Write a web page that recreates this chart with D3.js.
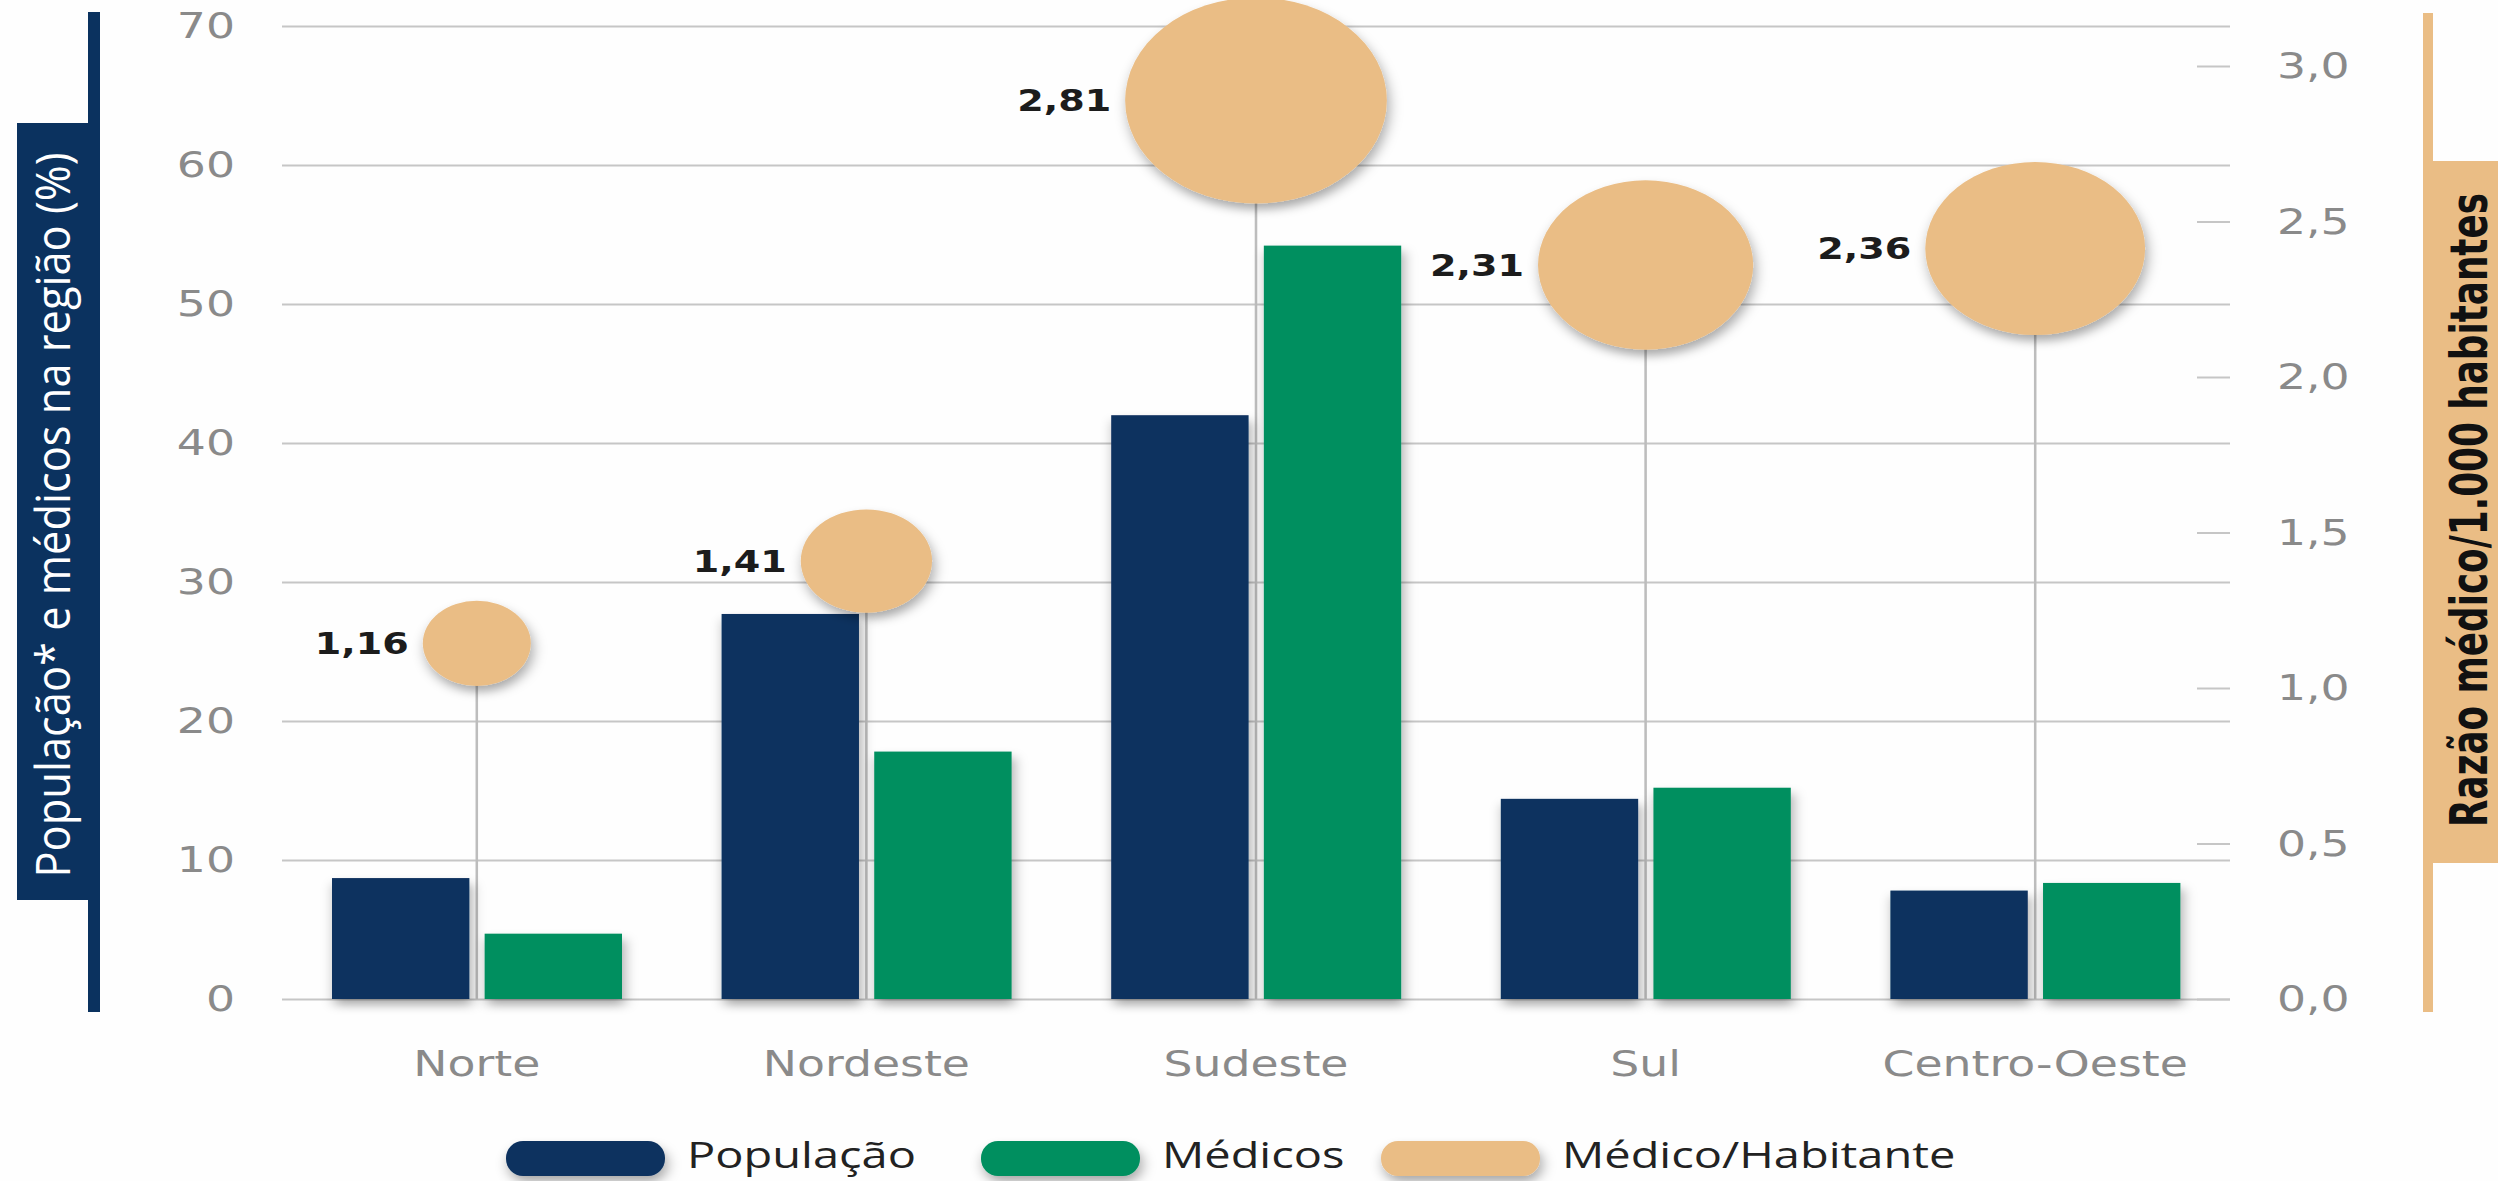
<!DOCTYPE html>
<html>
<head>
<meta charset="utf-8">
<script src="https://cdn.jsdelivr.net/npm/d3@7"></script>
<style>
  html, body { margin: 0; padding: 0; background: #fefefe; overflow: hidden; }
  .tick text { fill: #8a8a8a; font-family: "DejaVu Sans", sans-serif; font-size: 36px; }
</style>
</head>
<body>
<div class="chart"></div>
<script>
// data
const regions = ['Norte', 'Nordeste', 'Sudeste', 'Sul', 'Centro-Oeste'];
const populacao = [8.7, 27.7, 42.0, 14.4, 7.8];
const medicos = [4.7, 17.8, 54.2, 15.2, 8.35];
const razao = [1.16, 1.41, 2.81, 2.31, 2.36];
const leftTicks = [0, 10, 20, 30, 40, 50, 60, 70];
const rightTicks = [0, 0.5, 1.0, 1.5, 2.0, 2.5, 3.0];
const seriesNames = ['População', 'Médicos', 'Médico/Habitante'];
const seriesColors = ['#0b325f', '#008f5f', '#eabd85'];

// set up svg
const SVGWIDTH = 2498;
const SVGHEIGHT = 1181;
// the original artwork is stretched horizontally
const SX = 1.27;
const fx = v => v / SX;

const PLOT = { left: 282, right: 2230, top: 26, bottom: 999 };
// legend swatch left edges (final pixels)
const LEGEND_X = [506, 981, 1381];

let svg = d3.select('.chart')
  .append('svg')
  .attr('width', SVGWIDTH)
  .attr('height', SVGHEIGHT);

const defs = svg.append('defs');
const shadow = defs.append('filter')
  .attr('id', 'shadow')
  .attr('x', '-20%').attr('y', '-20%')
  .attr('width', '150%').attr('height', '150%');
shadow.append('feDropShadow')
  .attr('dx', 2).attr('dy', 6)
  .attr('stdDeviation', 5)
  .attr('flood-color', '#000')
  .attr('flood-opacity', 0.33);

const G = svg.append('g').attr('transform', `scale(${SX},1)`);

// scales
const x0 = d3.scaleBand()
  .domain(regions)
  .range([fx(PLOT.left), fx(PLOT.right)])
  .padding(0);

const x1 = d3.scaleBand()
  .domain(['pop', 'med'])
  .range([fx(50), fx(340)])
  .paddingInner(0.1)
  .paddingOuter(0);

const yLeft = d3.scaleLinear().domain([0, 70]).range([PLOT.bottom, PLOT.top]);
const yRight = d3.scaleLinear().domain([0, 3]).range([PLOT.bottom, 66]);
const yBubble = d3.scaleLinear().domain([0, 3]).range([1025, 38]);
const rBubble = d3.scaleLinear().domain([0, 3]).range([0, 110]);

const comma = (f) => d => d3.format(f)(d).replace('.', ',');

// left axis + gridlines
const leftAxis = d3.axisLeft(yLeft)
  .tickValues(leftTicks)
  .tickSize(-(fx(PLOT.right) - fx(PLOT.left)))
  .tickPadding(fx(47));
const gl = G.append('g')
  .attr('transform', `translate(${fx(PLOT.left)},0)`)
  .call(leftAxis);
gl.select('.domain').remove();
gl.selectAll('.tick line').attr('stroke', '#c6c6c6').attr('stroke-width', 2);

// right axis
const rightAxis = d3.axisRight(yRight)
  .tickValues(rightTicks)
  .tickSize(fx(33))
  .tickPadding(fx(47))
  .tickFormat(comma('.1f'));
const gr = G.append('g')
  .attr('transform', `translate(${fx(2197)},0)`)
  .call(rightAxis);
gr.select('.domain').remove();
gr.selectAll('.tick line').attr('stroke', '#c6c6c6').attr('stroke-width', 2);

// x labels
G.selectAll('.xlabel')
  .data(regions)
  .enter()
  .append('text')
  .attr('class', 'xlabel')
  .attr('x', d => x0(d) + x0.bandwidth() / 2)
  .attr('y', 1076)
  .attr('text-anchor', 'middle')
  .attr('fill', '#8a8a8a')
  .style('font-family', '"DejaVu Sans", sans-serif')
  .style('font-size', '36px')
  .text(d => d);

// lollipop stems
G.selectAll('.stem')
  .data(regions)
  .enter()
  .append('line')
  .attr('class', 'stem')
  .attr('x1', d => x0(d) + x0.bandwidth() / 2)
  .attr('x2', d => x0(d) + x0.bandwidth() / 2)
  .attr('y1', (d, i) => yBubble(razao[i]))
  .attr('y2', PLOT.bottom)
  .attr('stroke', '#bdbdbd')
  .attr('stroke-width', 2);

// bars
const groups = G.selectAll('.region')
  .data(regions)
  .enter()
  .append('g')
  .attr('class', 'region')
  .attr('transform', d => `translate(${x0(d)},0)`);

groups.append('rect')
  .attr('x', x1('pop'))
  .attr('width', x1.bandwidth())
  .attr('y', (d, i) => yLeft(populacao[i]))
  .attr('height', (d, i) => PLOT.bottom - yLeft(populacao[i]))
  .attr('fill', seriesColors[0])
  .attr('filter', 'url(#shadow)');

groups.append('rect')
  .attr('x', x1('med'))
  .attr('width', x1.bandwidth())
  .attr('y', (d, i) => yLeft(medicos[i]))
  .attr('height', (d, i) => PLOT.bottom - yLeft(medicos[i]))
  .attr('fill', seriesColors[1])
  .attr('filter', 'url(#shadow)');

// bubbles
groups.append('circle')
  .attr('cx', x0.bandwidth() / 2)
  .attr('cy', (d, i) => yBubble(razao[i]))
  .attr('r', (d, i) => rBubble(razao[i]))
  .attr('fill', seriesColors[2])
  .attr('filter', 'url(#shadow)');

groups.append('text')
  .attr('x', (d, i) => x0.bandwidth() / 2 - rBubble(razao[i]) - 11)
  .attr('y', (d, i) => yBubble(razao[i]))
  .attr('dy', '0.36em')
  .attr('text-anchor', 'end')
  .attr('fill', '#1c1c1c')
  .style('font-family', '"DejaVu Sans", sans-serif')
  .style('font-weight', 'bold')
  .style('font-size', '30px')
  .text((d, i) => comma('.2f')(razao[i]));

// left axis title box
G.append('rect')
  .attr('x', fx(88)).attr('y', 12)
  .attr('width', fx(12)).attr('height', 1000)
  .attr('fill', seriesColors[0]);
G.append('rect')
  .attr('x', fx(17)).attr('y', 123)
  .attr('width', fx(83)).attr('height', 777)
  .attr('fill', seriesColors[0]);
G.append('text')
  .attr('transform', `translate(${fx(70)},515) rotate(-90)`)
  .attr('text-anchor', 'middle')
  .attr('fill', '#ffffff')
  .attr('textLength', 725)
  .attr('lengthAdjust', 'spacingAndGlyphs')
  .style('font-family', '"Open Sans", sans-serif')
  .style('font-size', '38px')
  .text('População* e médicos na região (%)');

// right axis title box
G.append('rect')
  .attr('x', fx(2423)).attr('y', 13)
  .attr('width', fx(10)).attr('height', 999)
  .attr('fill', seriesColors[2]);
G.append('rect')
  .attr('x', fx(2423)).attr('y', 161)
  .attr('width', fx(80)).attr('height', 702)
  .attr('fill', seriesColors[2]);
G.append('text')
  .attr('transform', `translate(${fx(2487)},510) rotate(-90)`)
  .attr('text-anchor', 'middle')
  .attr('fill', '#111')
  .attr('textLength', 634)
  .attr('lengthAdjust', 'spacingAndGlyphs')
  .style('font-family', '"Liberation Sans Narrow", "DejaVu Sans Condensed", sans-serif')
  .style('font-weight', 'bold')
  .style('font-size', '40px')
  .text('Razão médico/1.000 habitantes');

// legend
const legend = G.append('g').attr('class', 'legend');
seriesNames.forEach(function(name, i) {
  let lx = fx(LEGEND_X[i]);
  legend.append('rect')
    .attr('x', lx).attr('y', 1141)
    .attr('width', fx(159)).attr('height', 35)
    .attr('rx', fx(17)).attr('ry', 17)
    .attr('fill', seriesColors[i])
    .attr('filter', 'url(#shadow)');
  legend.append('text')
    .attr('x', lx + fx(181))
    .attr('y', 1168)
    .attr('fill', '#222')
    .style('font-family', '"Open Sans", sans-serif')
    .style('font-size', '37px')
    .text(name);
});
</script>
</body>
</html>
